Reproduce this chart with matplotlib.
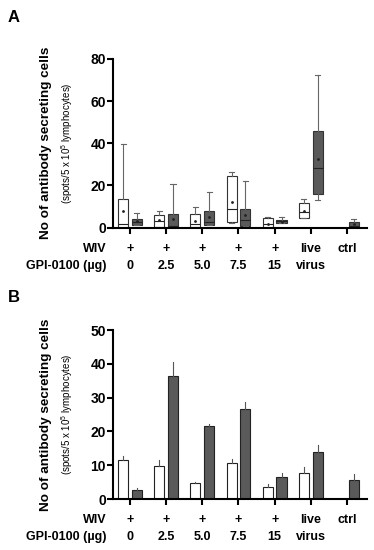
import matplotlib.pyplot as plt
import matplotlib.transforms as mtransforms

plt.rcParams['font.family'] = ['Liberation Sans', 'DejaVu Sans']
plt.rcParams['mathtext.default'] = 'regular'

wiv_labels = ["+", "+", "+", "+", "+", "live", "ctrl"]
gpi_labels = ["0", "2.5", "5.0", "7.5", "15", "virus", ""]

# panel A box stats: whisker low, q1, median, q3, whisker high, mean
white_lo = [0, 0, 0, 2.1, 0, 4.8, 0]
white_q1 = [0, 0.5, 0.2, 2.5, 0, 4.8, 0]
white_med = [1.7, 3.3, 1.6, 9, 1.7, 7.6, 0]
white_q3 = [13.6, 6, 6.5, 24.6, 4.4, 11.7, 0]
white_hi = [39.8, 7.9, 10, 26.5, 5.2, 13.6, 0]
white_mean = [8.1, 3.6, 3.2, 12.4, 1.9, 8.1, None]

dark_lo = [1.4, 0.5, 1.1, 0.6, 2, 13.2, 0]
dark_q1 = [1.4, 0.5, 1.1, 0.6, 2, 15.8, 0]
dark_med = [2.9, 1, 2.5, 3.6, 3, 28.4, 1]
dark_q3 = [4.1, 6.5, 8.1, 9, 3.8, 45.8, 2.7]
dark_hi = [6.8, 20.8, 17, 22.2, 4.9, 72.4, 4.1]
dark_mean = [3, 4.3, 4.9, 5.9, 2.9, 32.6, 1.6]

# panel B bars: mean and upper error
white_bar = [11.7, 9.7, 4.6, 10.6, 3.7, 7.6, 0]
white_err = [1.1, 1.8, 0.5, 1.2, 0.8, 1.8, 0]
dark_bar = [2.7, 36.4, 21.7, 26.7, 6.4, 14, 5.6]
dark_err = [0.7, 4.2, 0.5, 1.9, 1.2, 2, 1.8]

dark_color = "#5a5a5a"
off = 0.19
w = 0.28

fig = plt.figure(figsize=(3.74, 5.5), dpi=100)
axA = fig.add_axes([0.302, 0.586, 0.679, 0.307])
axB = fig.add_axes([0.302, 0.0927, 0.679, 0.307])


def style_axis(ax, ymax, step):
    ax.set_xlim(-0.47, 6.55)
    ax.set_ylim(0, ymax)
    ax.set_yticks(range(0, ymax + 1, step))
    for s in ["top", "right"]:
        ax.spines[s].set_visible(False)
    for s in ["left", "bottom"]:
        ax.spines[s].set_linewidth(1.5)
    ax.set_xticks(range(len(wiv_labels)))
    ax.set_xticklabels([])
    ax.tick_params(axis="both", width=1.5, length=4, direction="out")
    ax.tick_params(axis="y", labelsize=10, pad=1)
    for lab in ax.get_yticklabels():
        lab.set_fontweight("bold")
    ax.set_ylabel("No of antibody secreting cells", fontsize=9.7,
                  fontweight="bold")
    ax.yaxis.set_label_coords(-0.24, 0.5)
    ax.text(-0.18, 0.5, "(spots/5 x 10$^5$ lymphocytes)", fontsize=7,
            rotation=90, ha="center", va="center", transform=ax.transAxes)
    trans = mtransforms.blended_transform_factory(ax.transData, ax.transAxes)
    ax.text(-0.64, -0.125, "WIV", transform=trans, ha="right", va="center",
            fontsize=9, fontweight="bold")
    ax.text(-0.64, -0.225, "GPI-0100 (\u00b5g)", transform=trans, ha="right",
            va="center", fontsize=9, fontweight="bold")
    for i in range(len(wiv_labels)):
        ax.text(i, -0.125, wiv_labels[i], transform=trans, ha="center",
                va="center", fontsize=9, fontweight="bold")
        ax.text(i, -0.225, gpi_labels[i], transform=trans, ha="center",
                va="center", fontsize=9, fontweight="bold")


def make_stats(lo, q1, med, q3, hi, mean):
    stats = []
    for i in range(len(lo)):
        d = {"whislo": lo[i], "q1": q1[i], "med": med[i], "q3": q3[i],
             "whishi": hi[i], "fliers": []}
        if mean[i] is not None:
            d["mean"] = mean[i]
        stats.append(d)
    return stats


# panel A
pos = list(range(len(wiv_labels)))
for stats, shift, face in [
        (make_stats(white_lo, white_q1, white_med, white_q3, white_hi, white_mean), -off, "white"),
        (make_stats(dark_lo, dark_q1, dark_med, dark_q3, dark_hi, dark_mean), off, dark_color)]:
    for i, d in enumerate(stats):
        axA.bxp([d], positions=[pos[i] + shift], widths=w, patch_artist=True,
                showmeans="mean" in d, showfliers=False,
                boxprops=dict(facecolor=face, edgecolor="#333333", linewidth=0.8),
                medianprops=dict(color="#222222", linewidth=0.8),
                whiskerprops=dict(color="#666666", linewidth=0.8),
                capprops=dict(color="#666666", linewidth=0.8),
                capwidths=0.14,
                meanprops=dict(marker=".", markersize=2, color="#222222",
                               markerfacecolor="#222222", markeredgecolor="#222222"),
                manage_ticks=False)
style_axis(axA, 80, 20)

# panel B
xw = [p - off for p in pos]
xd = [p + off for p in pos]
axB.bar(xw, white_bar, width=w, color="white", edgecolor="#222222", linewidth=0.8)
axB.bar(xd, dark_bar, width=w, color=dark_color, edgecolor="#222222", linewidth=0.8)
for i in range(len(pos)):
    if white_bar[i] > 0:
        axB.plot([xw[i], xw[i]], [white_bar[i], white_bar[i] + white_err[i]],
                 color="#555555", linewidth=0.8)
    axB.plot([xd[i], xd[i]], [dark_bar[i], dark_bar[i] + dark_err[i]],
             color="#555555", linewidth=0.8)
style_axis(axB, 50, 10)

fig.text(0.02, 0.969, "A", fontsize=12, fontweight="bold", va="center")
fig.text(0.02, 0.46, "B", fontsize=12, fontweight="bold", va="center")

fig.savefig("out.png", dpi=100)
